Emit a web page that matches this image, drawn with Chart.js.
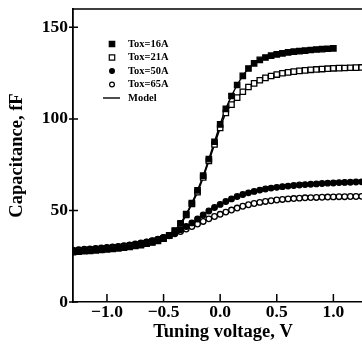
<!DOCTYPE html>
<html>
<head>
<meta charset="utf-8">
<script src="https://cdn.jsdelivr.net/npm/chart.js@4"></script>
<style>
  html, body { margin: 0; padding: 0; background: #fff; overflow: hidden; }
  #wrap { width: 362px; height: 344px; overflow: hidden; }
  canvas { display: block; }
</style>
</head>
<body>
<div id="wrap"><canvas id="chart" width="373" height="344"></canvas></div>
<script>
// tuning voltage (V)
const voltage = [
  -1.30, -1.25, -1.20, -1.15, -1.10, -1.05, -1.00, -0.95, -0.90, -0.85,
  -0.80, -0.75, -0.70, -0.65, -0.60, -0.55, -0.50, -0.45, -0.40, -0.35,
  -0.30, -0.25, -0.20, -0.15, -0.10, -0.05, 0.00, 0.05, 0.10, 0.15,
  0.20, 0.25, 0.30, 0.35, 0.40, 0.45, 0.50, 0.55, 0.60, 0.65,
  0.70, 0.75, 0.80, 0.85, 0.90, 0.95, 1.00, 1.05, 1.10, 1.15,
  1.20, 1.25
];

// capacitance (fF) for each oxide thickness
const tox16 = [
  27.2, 27.5, 27.7, 27.9, 28.2, 28.4, 28.7, 29.0, 29.3, 29.7,
  30.1, 30.6, 31.1, 31.8, 32.5, 33.4, 34.6, 36.4, 39.0, 43.0,
  48.0, 54.0, 61.0, 69.0, 78.0, 87.5, 97.0, 105.5, 112.5, 118.5,
  123.5, 127.5, 130.3, 132.2, 133.5, 134.5, 135.2, 135.8, 136.3, 136.7,
  137.0, 137.3, 137.6, 137.9, 138.1, 138.3, 138.5
];
const tox21 = [
  27.6, 27.9, 28.1, 28.3, 28.6, 28.8, 29.1, 29.4, 29.7, 30.1,
  30.5, 31.0, 31.5, 32.1, 32.8, 33.7, 34.8, 36.3, 38.7, 42.5,
  47.5, 53.5, 60.0, 68.0, 77.0, 86.0, 95.0, 103.2, 107.8, 111.6,
  114.8, 117.4, 119.4, 121.1, 122.4, 123.4, 124.2, 124.9, 125.4, 125.8,
  126.2, 126.5, 126.8, 127.0, 127.2, 127.4, 127.6, 127.7, 127.8, 127.9,
  128.0, 128.1
];
const tox50 = [
  28.0, 28.3, 28.5, 28.7, 29.0, 29.2, 29.5, 29.8, 30.1, 30.5,
  30.9, 31.4, 32.0, 32.6, 33.3, 34.2, 35.2, 36.4, 37.8, 39.4,
  41.2, 43.2, 45.3, 47.5, 49.7, 51.6, 53.3, 54.9, 56.3, 57.6,
  58.7, 59.6, 60.4, 61.1, 61.7, 62.2, 62.6, 63.0, 63.3, 63.6,
  63.9, 64.1, 64.3, 64.5, 64.7, 64.9, 65.0, 65.2, 65.3, 65.4,
  65.5, 65.6
];
const tox65 = [
  28.3, 28.6, 28.8, 29.0, 29.3, 29.5, 29.8, 30.1, 30.4, 30.8,
  31.2, 31.7, 32.2, 32.8, 33.5, 34.3, 35.2, 36.2, 37.3, 38.5,
  39.8, 41.2, 42.6, 44.0, 45.4, 46.7, 47.9, 49.1, 50.2, 51.3,
  52.3, 53.1, 53.8, 54.4, 54.9, 55.3, 55.7, 56.0, 56.3, 56.5,
  56.7, 56.9, 57.0, 57.1, 57.2, 57.3, 57.4, 57.5, 57.5, 57.6,
  57.6, 57.7
];

const seriesNames = ['Tox=16A', 'Tox=21A', 'Tox=50A', 'Tox=65A'];
const modelName = 'Model';
const xTicks = [-1.0, -0.5, 0.0, 0.5, 1.0];
const yTicks = [0, 50, 100, 150];

const FONT = '"Liberation Serif", "Times New Roman", serif';

function pts(vals) {
  return vals.map((c, i) => ({ x: voltage[i], y: c }));
}

const markerStyles = [
  { pointStyle: 'rect', radius: 3.8, fill: '#000' },
  { pointStyle: 'rect', radius: 3.8, fill: '#fff' },
  { pointStyle: 'circle', radius: 2.8, fill: '#000' },
  { pointStyle: 'circle', radius: 2.8, fill: '#fff' }
];

const allSeries = [tox16, tox21, tox50, tox65];

const datasets = [];
allSeries.forEach((vals, k) => {
  const m = markerStyles[k];
  datasets.push({
    label: seriesNames[k],
    data: pts(vals),
    showLine: false,
    pointStyle: m.pointStyle,
    pointRadius: m.radius,
    pointBackgroundColor: m.fill,
    pointBorderColor: '#000',
    pointBorderWidth: 1.3,
    order: 0
  });
});
allSeries.forEach((vals, k) => {
  datasets.push({
    label: modelName,
    data: pts(vals),
    showLine: true,
    pointRadius: 0,
    borderColor: '#000',
    borderWidth: 1.5,
    cubicInterpolationMode: 'monotone',
    order: 1
  });
});

// inward tick marks, top frame line and in-plot legend
const decor = {
  id: 'decor',
  afterDraw(chart) {
    const ctx = chart.ctx;
    const a = chart.chartArea;
    const xs = chart.scales.x, ys = chart.scales.y;
    ctx.save();
    ctx.strokeStyle = '#000';
    ctx.lineWidth = 1.5;
    ctx.beginPath();
    ctx.moveTo(a.left, a.top);
    ctx.lineTo(a.right, a.top);
    xTicks.forEach(v => {
      const px = xs.getPixelForValue(v);
      ctx.moveTo(px, a.bottom);
      ctx.lineTo(px, a.bottom - 8);
    });
    yTicks.forEach(v => {
      const py = ys.getPixelForValue(v);
      ctx.moveTo(a.left - 4, py);
      ctx.lineTo(a.left + 5, py);
    });
    ctx.stroke();

    // legend
    const mx = 112, tx = 128, y0 = 44, dy = 13.5;
    ctx.font = 'bold 10.5px ' + FONT;
    ctx.textBaseline = 'middle';
    seriesNames.forEach((name, k) => {
      const y = y0 + k * dy;
      const m = markerStyles[k];
      ctx.lineWidth = 1.2;
      ctx.fillStyle = m.fill;
      ctx.beginPath();
      if (m.pointStyle === 'rect') {
        const s = 3.2 * Math.SQRT1_2 * 1.2;
        ctx.rect(mx - s, y - s, 2 * s, 2 * s);
      } else {
        ctx.arc(mx, y, 2.4, 0, Math.PI * 2);
      }
      ctx.fill();
      ctx.stroke();
      ctx.fillStyle = '#000';
      ctx.fillText(name, tx, y);
    });
    const ym = y0 + 4 * dy;
    ctx.lineWidth = 1.4;
    ctx.beginPath();
    ctx.moveTo(103, ym);
    ctx.lineTo(120, ym);
    ctx.stroke();
    ctx.fillText(modelName, tx, ym);
    ctx.restore();
  }
};

new Chart(document.getElementById('chart'), {
  type: 'scatter',
  data: { datasets },
  options: {
    responsive: false,
    animation: false,
    events: [],
    layout: { autoPadding: false, padding: { top: 9, right: 0, left: 0, bottom: 0 } },
    plugins: { legend: { display: false }, tooltip: { enabled: false } },
    scales: {
      x: {
        type: 'linear',
        min: -1.3,
        max: 1.35,
        afterFit: s => { s.height = 42; s.paddingLeft = 0; s.paddingRight = 0; },
        afterBuildTicks: s => { s.ticks = xTicks.map(v => ({ value: v })); },
        grid: { display: false, drawTicks: false },
        border: { display: true, color: '#000', width: 1.5 },
        ticks: {
          padding: 0,
          color: '#000',
          font: { family: FONT, size: 17.5, weight: 'bold' },
          maxRotation: 0,
          callback: v => (v < 0 ? '\u2212' : '') + Math.abs(v).toFixed(1)
        },
        title: {
          display: true,
          text: 'Tuning voltage, V',
          color: '#000',
          font: { family: FONT, size: 18.5, weight: 'bold' },
          padding: { top: 0, bottom: 1 }
        }
      },
      y: {
        min: 0,
        max: 160,
        afterFit: s => { s.width = 73; s.paddingTop = 0; s.paddingBottom = 0; },
        afterBuildTicks: s => { s.ticks = yTicks.map(v => ({ value: v })); },
        grid: { display: false, drawTicks: false },
        border: { display: true, color: '#000', width: 1.8 },
        ticks: {
          padding: 5,
          color: '#000',
          font: { family: FONT, size: 17.5, weight: 'bold' }
        },
        title: {
          display: true,
          text: 'Capacitance, fF',
          color: '#000',
          font: { family: FONT, size: 18.5, weight: 'bold' },
          padding: { top: 6, bottom: 0 }
        }
      }
    }
  },
  plugins: [decor]
});
</script>
</body>
</html>
